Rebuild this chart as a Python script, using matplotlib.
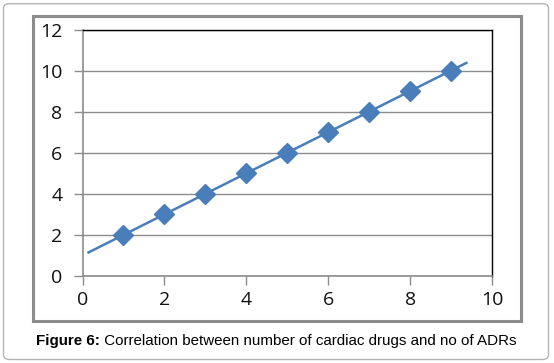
import numpy as np
import matplotlib
matplotlib.use("Agg")
import matplotlib.pyplot as plt
from matplotlib.patches import Rectangle, FancyBboxPatch

# Data
cardiac_drugs = [1, 2, 3, 4, 5, 6, 7, 8, 9]
adrs = [2, 3, 4, 5, 6, 7, 8, 9, 10]
x_ticks = [0, 2, 4, 6, 8, 10]
y_ticks = [0, 2, 4, 6, 8, 10, 12]
caption_bold = "Figure 6:"
caption_text = " Correlation between number of cardiac drugs and no of ADRs"

W, H = 554, 363
fig = plt.figure(figsize=(W / 100, H / 100), dpi=100)
fig.patch.set_facecolor("white")

# outer rounded border
outer = FancyBboxPatch((3.5 / W, 3.5 / H), (548.5 - 3.5) / W, (359.3 - 3.5) / H,
                       boxstyle="round,pad=0,rounding_size=0.012",
                       transform=fig.transFigure, fill=False,
                       edgecolor="#b4b4b4", linewidth=1.0)
fig.patches.append(outer)

# chart frame
frame = Rectangle((32.5 / W, 1 - 320.5 / H), (521 - 32.5) / W, (320.5 - 16) / H,
                  transform=fig.transFigure, fill=False,
                  edgecolor="#8c8c8c", linewidth=2.2)
fig.patches.append(frame)

left, right = 82.5 / W, 492 / W
top, bottom = 1 - 29.5 / H, 1 - 276 / H
ax = fig.add_axes([left, bottom, right - left, top - bottom])

blue = "#4a7ebb"
coef = np.polyfit(cardiac_drugs, adrs, 1)
xt = np.array([0.12, 9.4])
ax.plot(xt, np.polyval(coef, xt), color=blue, linewidth=1.8, zorder=3,
        solid_capstyle="butt")
ax.plot(cardiac_drugs, adrs, linestyle="none", marker="D", markersize=10.5,
        color=blue, markeredgecolor=blue, zorder=4)

ax.set_xlim(0, 10)
ax.set_ylim(0, 12)
ax.set_xticks(x_ticks)
ax.set_yticks(y_ticks)
ax.yaxis.grid(True, color="#8c8c8c", linewidth=1.0)
ax.set_axisbelow(True)

for s in ["top", "right"]:
    ax.spines[s].set_color("black")
    ax.spines[s].set_linewidth(1.0)
for s in ["left", "bottom"]:
    ax.spines[s].set_color("#8c8c8c")
    ax.spines[s].set_linewidth(1.2)

tick_font = dict(family=["Open Sans", "DejaVu Sans"], size=14)
ax.tick_params(axis="both", direction="out", length=6.5, width=1.0,
               color="#8c8c8c", labelcolor="#111111")
ax.tick_params(axis="y", pad=8)
ax.tick_params(axis="x", pad=4)
ax.set_xticklabels([str(v) for v in x_ticks], fontdict=tick_font)
ax.set_yticklabels([str(v) for v in y_ticks], fontdict=tick_font)

# caption
cap_size = 10.9
t1 = fig.text(36 / W, 1 - 345 / H, caption_bold, fontsize=cap_size, fontweight="bold",
              family=["Liberation Sans", "DejaVu Sans"], ha="left", va="baseline")
fig.canvas.draw()
bb = t1.get_window_extent()
fig.text(bb.x1 / W, 1 - 345 / H, caption_text, fontsize=cap_size,
         family=["Liberation Sans", "DejaVu Sans"], ha="left", va="baseline")

fig.savefig("out.png", dpi=100, facecolor="white")
